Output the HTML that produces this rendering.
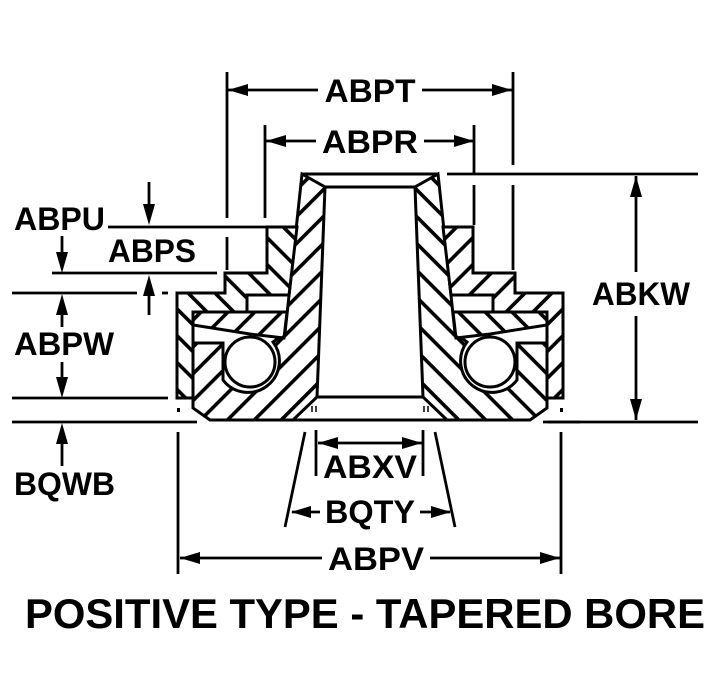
<!DOCTYPE html>
<html><head><meta charset="utf-8"><style>
html,body{margin:0;padding:0;background:#fff;}
svg{display:block;}
text{font-family:"Liberation Sans",Arial,sans-serif;font-weight:bold;fill:#000;}
</style></head><body>
<svg width="714" height="697" viewBox="0 0 714 697" xmlns="http://www.w3.org/2000/svg">
<defs>
<pattern id="hf" patternUnits="userSpaceOnUse" width="19" height="19" patternTransform="rotate(45)">
<rect width="19" height="19" fill="#fff"/><rect x="0" y="0" width="3.6" height="19" fill="#000"/>
</pattern>
<pattern id="hb" patternUnits="userSpaceOnUse" width="19" height="19" patternTransform="rotate(-45)">
<rect width="19" height="19" fill="#fff"/><rect x="0" y="0" width="3.6" height="19" fill="#000"/>
</pattern>
<g id="half" stroke="#000" stroke-width="3" stroke-linejoin="miter">
<path d="M302,174 L285,333 L273,342 A29,29 0 0 1 223,380 L223,343 L193,343 L193,408 L210,420 L293,420 L317,397 L325,187 Z" fill="url(#hf)"/>
<path d="M302,174 L371,174 M325,187 L371,187 M317,397 L371,397 M293,420 L371,420" fill="none"/>
<path d="M177,293 L225,293 L225,273 L267,273 L267,227 L297,227 L289,295 L247,295 L247,312 L193,312 L193,398 L177,398 Z" fill="url(#hb)"/>
<path d="M193,312 L287,312 L284,338 L250,334 L193,325 Z" fill="url(#hf)"/>
<circle cx="250" cy="362" r="25" fill="#fff"/>
<rect x="177" y="408" width="3" height="4" fill="#000" stroke="none"/>
<line x1="312" y1="406" x2="312" y2="412" stroke-width="1.5"/>
<line x1="316" y1="406" x2="316" y2="412" stroke-width="1.5"/>
</g>
</defs>
<use href="#half"/>
<use href="#half" transform="translate(740,0) scale(-1,1)"/>

<g stroke="#000" stroke-width="2.8" fill="none">
<line x1="227" y1="72" x2="227" y2="218"/>
<line x1="227" y1="237" x2="227" y2="270"/>
<line x1="513" y1="72" x2="513" y2="165"/>
<line x1="513" y1="185" x2="513" y2="270"/>
<line x1="265" y1="125" x2="265" y2="218"/>
<line x1="474" y1="125" x2="474" y2="173"/>
<line x1="474" y1="185" x2="474" y2="225"/>
<line x1="228" y1="90" x2="318" y2="90"/>
<line x1="422" y1="90" x2="512" y2="90"/>
<line x1="266" y1="141" x2="316" y2="141"/>
<line x1="424" y1="141" x2="474" y2="141"/>
<line x1="447" y1="174" x2="698" y2="174"/>
<line x1="548" y1="422" x2="698" y2="422"/>
<line x1="636" y1="176" x2="636" y2="272"/>
<line x1="636" y1="316" x2="636" y2="420"/>
<line x1="108" y1="227" x2="298" y2="227"/>
<line x1="52" y1="273" x2="217" y2="273"/>
<line x1="12" y1="293" x2="137" y2="293"/>
<line x1="162" y1="293" x2="168" y2="293"/>
<line x1="12" y1="398" x2="168" y2="398"/>
<line x1="12" y1="422" x2="197" y2="422"/>
<line x1="543" y1="422" x2="580" y2="422"/>
<line x1="149" y1="182" x2="149" y2="212"/>
<line x1="62" y1="236" x2="62" y2="260"/>
<line x1="149" y1="288" x2="149" y2="315"/>
<line x1="62" y1="307" x2="62" y2="327"/>
<line x1="62" y1="362" x2="62" y2="385"/>
<line x1="62" y1="436" x2="62" y2="466"/>
<line x1="178" y1="432" x2="178" y2="574"/>
<line x1="561" y1="432" x2="561" y2="574"/>
<line x1="316" y1="430" x2="316" y2="476"/>
<line x1="423" y1="430" x2="423" y2="476"/>
<line x1="318" y1="443" x2="422" y2="443"/>
<line x1="305" y1="432" x2="285" y2="527"/>
<line x1="435" y1="432" x2="455" y2="527"/>
<line x1="292" y1="512" x2="320" y2="512"/>
<line x1="420" y1="512" x2="450" y2="512"/>
<line x1="180" y1="558" x2="322" y2="558"/>
<line x1="430" y1="558" x2="560" y2="558"/>
</g>
<g fill="#000">
<polygon points="228,90 248,84 248,96"/>
<polygon points="512,90 492,84 492,96"/>
<polygon points="266,141 286,135 286,147"/>
<polygon points="474,141 454,135 454,147"/>
<polygon points="636,176 630,197 642,197"/>
<polygon points="636,420 630,399 642,399"/>
<polygon points="149,225 143,204 155,204"/>
<polygon points="62,273 56,252 68,252"/>
<polygon points="149,275 143,296 155,296"/>
<polygon points="62,294 56,315 68,315"/>
<polygon points="62,398 56,377 68,377"/>
<polygon points="62,423 56,444 68,444"/>
<polygon points="318,443 338,437 338,449"/>
<polygon points="422,443 402,437 402,449"/>
<polygon points="291,512 311,506 311,518"/>
<polygon points="451,512 431,506 431,518"/>
<polygon points="180,558 200,552 200,564"/>
<polygon points="560,558 540,552 540,564"/>
</g>
<g font-size="32">
<text x="370" y="102" text-anchor="middle" textLength="91" lengthAdjust="spacingAndGlyphs">ABPT</text>
<text x="370" y="153" text-anchor="middle" textLength="96" lengthAdjust="spacingAndGlyphs">ABPR</text>
<text x="641" y="305" text-anchor="middle" textLength="98" lengthAdjust="spacingAndGlyphs">ABKW</text>
<text x="14" y="230" textLength="91" lengthAdjust="spacingAndGlyphs">ABPU</text>
<text x="108" y="262" textLength="88" lengthAdjust="spacingAndGlyphs">ABPS</text>
<text x="14" y="355" textLength="100" lengthAdjust="spacingAndGlyphs">ABPW</text>
<text x="14" y="495" textLength="101" lengthAdjust="spacingAndGlyphs">BQWB</text>
<text x="370" y="478" text-anchor="middle" textLength="94" lengthAdjust="spacingAndGlyphs">ABXV</text>
<text x="370" y="523" text-anchor="middle" textLength="90" lengthAdjust="spacingAndGlyphs">BQTY</text>
<text x="376" y="570" text-anchor="middle" textLength="96" lengthAdjust="spacingAndGlyphs">ABPV</text>
</g>
<text x="25" y="628" font-size="42" textLength="680" lengthAdjust="spacingAndGlyphs">POSITIVE TYPE - TAPERED BORE</text>
</svg>
</body></html>
